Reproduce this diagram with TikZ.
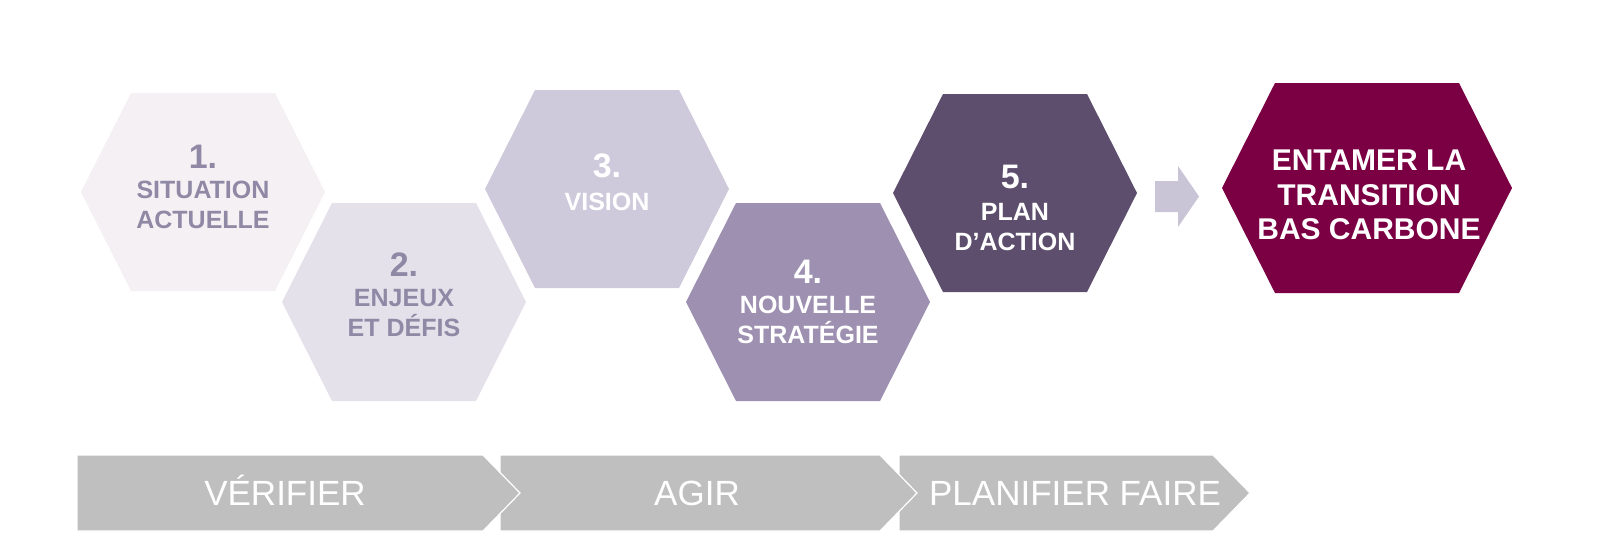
\documentclass[tikz,border=0pt]{standalone}
\usepackage{fontspec}
\setmainfont{Liberation Sans}
\usepackage{tikz}
\usepackage{xcolor}
\definecolor{stepone}{HTML}{F5F0F3}
\definecolor{steptwo}{HTML}{E4E1EA}
\definecolor{stepthree}{HTML}{CECADB}
\definecolor{stepfour}{HTML}{9D90B1}
\definecolor{stepfive}{HTML}{5D4E6E}
\definecolor{carbonred}{HTML}{7B0043}
\definecolor{arrowgrey}{HTML}{C9C5D7}
\definecolor{bandgrey}{HTML}{BFBFBF}
\definecolor{softtext}{HTML}{8F89A6}

% one hexagon cell: fill colour, centre x, centre y
\newcommand{\hexcell}[3]{%
  \fill[#1] (#2,#3) ++(-122,0) -- ++(50,-99) -- ++(144,0) -- ++(50,99) -- ++(-50,99) -- ++(-144,0) -- cycle;}

\begin{document}
\begin{tikzpicture}[x=1pt, y=-1pt,
    stepnum/.style={inner sep=0pt, font=\bfseries\fontsize{34}{34}\selectfont},
    steplbl/.style={inner sep=0pt, align=center, font=\bfseries\fontsize{25}{30}\selectfont},
    bandtext/.style={inner sep=0pt, anchor=base, text=white, font=\fontsize{35}{35}\selectfont},
    bandbox/.style={fill=bandgrey, draw=white, line width=1.2pt}]
    \useasboundingbox (0,0) rectangle (1600,546);

    % Step 1 - Situation actuelle
    \hexcell{stepone}{203}{192}
    \node[stepnum, text=softtext] (sitnum) at (203,157) {1.};
    \node[steplbl, text=softtext] (sitlbl) at (203,205) {SITUATION\\ACTUELLE};

    % Step 2 - Enjeux
    \hexcell{steptwo}{404}{302}
    \node[stepnum, text=softtext] (enjnum) at (404,265) {2.};
    \node[steplbl, text=softtext] (enjlbl) at (404,313) {ENJEUX\\ET DÉFIS};

    % Step 3 - Vision
    \hexcell{stepthree}{607}{189}
    \node[stepnum, text=white] (visnum) at (607,166) {3.};
    \node[steplbl, text=white] (vislbl) at (607,202) {VISION};

    % Step 4 - Nouvelle strategie
    \hexcell{stepfour}{808}{302}
    \node[stepnum, text=white] (stratnum) at (808,272) {4.};
    \node[steplbl, text=white] (stratlbl) at (808,320) {NOUVELLE\\STRATÉGIE};

    % Step 5 - Plan d'action
    \hexcell{stepfive}{1015}{193}
    \node[stepnum, text=white] (plannum) at (1015,177) {5.};
    \node[steplbl, text=white] (planlbl) at (1015,227) {PLAN\\D’ACTION};

    % Block arrow
    \fill[arrowgrey] (1155,181) -- (1178,181) -- (1178,166) -- (1199,196.5)
        -- (1178,227) -- (1178,212) -- (1155,212) -- cycle;

    % Goal - larger hexagon
    \fill[carbonred] (1367,188) ++(-145,0) -- ++(53,-105) -- ++(184,0) -- ++(53,105)
        -- ++(-53,105) -- ++(-184,0) -- cycle;
    \node[inner sep=0pt, align=center, text=white, font=\bfseries\fontsize{30}{34.5}\selectfont]
        (trans) at (1369,195) {ENTAMER LA\\TRANSITION\\BAS CARBONE};

    % Phase bands (drawn right to left so each tip overlaps the next band)
    \filldraw[bandbox] (899,455) -- (1213,455) -- (1250,493) -- (1213,531) -- (899,531) -- cycle;
    \filldraw[bandbox] (500,455) -- (880,455) -- (917,493) -- (880,531) -- (500,531) -- cycle;
    \filldraw[bandbox] (77,455) -- (483,455) -- (520,493) -- (483,531) -- (77,531) -- cycle;
    \node[bandtext] (verif) at (285,505.5) {VÉRIFIER};
    \node[bandtext] (agir) at (697,505.5) {AGIR};
    \node[bandtext] (planif) at (1075,505.5) {PLANIFIER FAIRE};
\end{tikzpicture}
\end{document}
